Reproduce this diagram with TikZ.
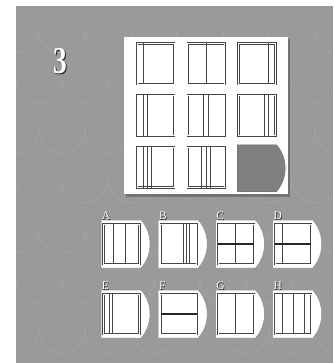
\documentclass[tikz,border=0pt]{standalone}
\usepackage{fontspec}
\setmainfont{Liberation Serif}
\definecolor{bggray}{RGB}{154,154,154}
\definecolor{patgray}{RGB}{163,163,163}
\definecolor{holegray}{RGB}{128,128,128}
\definecolor{linegray}{RGB}{70,70,70}
\begin{document}
\begin{tikzpicture}[x=1pt,y=-1pt,
  cellbox/.style={draw=linegray,line width=0.75pt,double=white,double distance=0.9pt},
  inline/.style={draw=linegray,line width=0.9pt},
  hline/.style={draw=black!85,line width=1.1pt},
  cardshape/.style={fill=white,draw=black!45,line width=0.5pt},
  lbl/.style={inner sep=0pt,anchor=base west,font=\fontsize{11.5}{11.5}\selectfont},
]
\useasboundingbox (0,0) rectangle (333,363);
% background
\fill[white] (0,0) rectangle (333,363);
\fill[bggray] (16,6) rectangle (333,363);
\begin{scope}
\clip (16,6) rectangle (333,363);
\foreach \r in {0,...,7}{
  \foreach \c in {0,...,7}{
    \pgfmathsetmacro\xx{16+\c*46+mod(\r,2)*23}
    \pgfmathsetmacro\yy{30+\r*50}
    \draw[patgray,line width=0.7pt] (\xx-23,\yy) arc[start angle=180,end angle=0,radius=23];
  }
}
\end{scope}
% number
\node[text=black!85,font=\bfseries\fontsize{38}{38}\selectfont,xscale=0.72] (numshadow) at (61.2,62.2) {3};
\node[text=white,font=\bfseries\fontsize{38}{38}\selectfont,xscale=0.72] (num) at (60,61) {3};
% board
\fill[black!55] (126,39) rectangle (290,197);
\fill[white] (124,37) rectangle (288,194);
% grid cells
\foreach \L/\T in {137/43.5,187.7/43.5,238.3/43.5,137/95.3,187.7/95.3,238.3/95.3,137/147,187.7/147}{
  \draw[cellbox] (\L,\T) rectangle (\L+37,\T+40.5);
}
% row 1
\draw[inline] (143.5,43.5) -- (143.5,84);
\draw[inline] (206.2,43.5) -- (206.2,84);
\draw[inline] (268.8,43.5) -- (268.8,84);
% row 2
\foreach \x in {143.5,147.8,203.7,208.7,264.5,268.8}{
  \draw[inline] (\x,95.3) -- (\x,135.8);
}
% row 3
\foreach \x in {143.5,147.5,151.5,201.9,206.2,210.5}{
  \draw[inline] (\x,147) -- (\x,187.5);
}
% missing cell
\path[fill=holegray,draw=black!55,line width=0.6pt] (237.5,145) -- (276.5,145) .. controls (288,158) and (288,178) .. (276.5,191.5) -- (237.5,191.5) -- cycle;
% option cards
\foreach \L/\T/\n in {101/220/A,158.2/220/B,215.5/220/C,272.7/220/D,101/290/E,158.2/290/F,215.5/290/G,272.7/290/H}{
  \begin{scope}[shift={(\L,\T)}]
    \path[cardshape] (0,0) -- (40,0) .. controls (52,13) and (52,35) .. (40,48) -- (0,48) -- cycle;
    \draw[cellbox] (2.5,4) rectangle (38.5,44);
    \node[lbl,text=black!85] (s\n) at (1.5,0) {\n};
    \node[lbl,text=white] (l\n) at (0.7,-0.8) {\n};
  \end{scope}
}
% A
\draw[inline] (113,224) -- (113,264);
\draw[inline] (125,224) -- (125,264);
% B
\foreach \x in {183.2,186.2,189.2}{\draw[inline] (\x,224) -- (\x,264);}
% C
\draw[inline] (235.5,224) -- (235.5,264);
\draw[hline] (218,244) -- (254,244);
% D
\draw[inline] (282.7,224) -- (282.7,264);
\draw[hline] (275.2,244) -- (311.2,244);
% E
\draw[inline] (109,294) -- (109,334);
\draw[inline] (112.7,294) -- (112.7,334);
% F
\draw[hline] (160.7,314) -- (196.7,314);
% G
\draw[inline] (235.5,294) -- (235.5,334);
% H
\foreach \x in {282.7,293.5,304.2}{\draw[inline] (\x,294) -- (\x,334);}
\end{tikzpicture}
\end{document}
